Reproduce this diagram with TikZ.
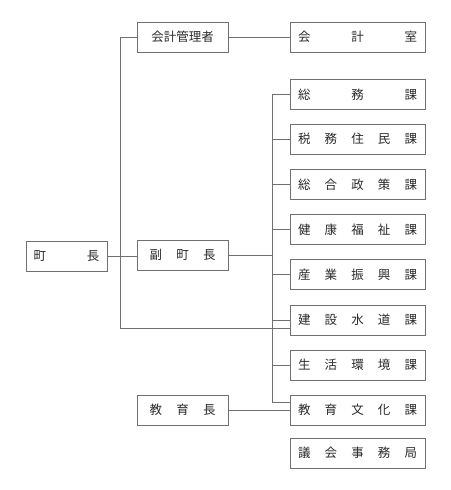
\documentclass[tikz,border=0pt]{standalone}
\usepackage{fontspec}
\newfontfamily\cjk{Noto Sans CJK JP}
\definecolor{ln}{HTML}{707070}
\definecolor{tx}{HTML}{2A2A2A}
\newcommand{\dist}[2]{\makebox[#1][s]{#2}}
\begin{document}
\begin{tikzpicture}[x=1pt,y=-1pt,
  box/.style={draw=ln,line width=0.7pt,minimum height=30pt,inner sep=0pt,text=tx,font=\cjk\fontsize{12.5}{14}\selectfont},
  rbox/.style={box,minimum width=135pt},
  mbox/.style={box,minimum width=91pt},
  conn/.style={draw=ln,line width=0.7pt}]
\useasboundingbox (0,0) rectangle (450,490);
% left / middle boxes
\node[box,minimum width=81pt] (chou) at (66.5,256) {\dist{66pt}{町\hfill 長}};
\node[mbox] (kanri) at (182.5,37) {会計管理者};
\node[mbox] (fuku) at (182.5,255) {\dist{66pt}{副\hfill 町\hfill 長}};
\node[mbox] (kyouikuchou) at (182.5,410) {\dist{66pt}{教\hfill 育\hfill 長}};
% right boxes
\node[rbox] (kaikei) at (357.5,37) {\dist{119pt}{会\hfill 計\hfill 室}};
\node[rbox] (soumu) at (357.5,94.5) {\dist{119pt}{総\hfill 務\hfill 課}};
\node[rbox] (zeimu) at (357.5,139) {\dist{119pt}{税\hfill 務\hfill 住\hfill 民\hfill 課}};
\node[rbox] (sougou) at (357.5,184.5) {\dist{119pt}{総\hfill 合\hfill 政\hfill 策\hfill 課}};
\node[rbox] (kenkou) at (357.5,229.5) {\dist{119pt}{健\hfill 康\hfill 福\hfill 祉\hfill 課}};
\node[rbox] (sangyou) at (357.5,274.5) {\dist{119pt}{産\hfill 業\hfill 振\hfill 興\hfill 課}};
\node[rbox] (kensetsu) at (357.5,320) {\dist{119pt}{建\hfill 設\hfill 水\hfill 道\hfill 課}};
\node[rbox] (seikatsu) at (357.5,365) {\dist{119pt}{生\hfill 活\hfill 環\hfill 境\hfill 課}};
\node[rbox] (kyouiku) at (357.5,410) {\dist{119pt}{教\hfill 育\hfill 文\hfill 化\hfill 課}};
\node[rbox] (gikai) at (357.5,453) {\dist{119pt}{議\hfill 会\hfill 事\hfill 務\hfill 局}};
% trunk coordinates
\coordinate (tl) at (120,37);
\coordinate (bl) at (120,328);
\coordinate (rt) at (272,94.5);
\coordinate (rb) at (272,402);
% connectors
\draw[conn] (kanri.east) -- (kaikei.west);
\draw[conn] (chou.east) -- (chou.east -| fuku.west);
\draw[conn] (kanri.west) -- (tl) -- (bl) -- (bl -| kensetsu.west);
\draw[conn] (rt) -- (rb) -- (rb -| kyouiku.west);
\draw[conn] (fuku.east) -- (fuku.east -| rt);
\foreach \n in {soumu,zeimu,sougou,kenkou,sangyou,kensetsu,seikatsu}
  \draw[conn] (\n.west) -- (\n.west -| rt);
\draw[conn] (kyouikuchou.east) -- (kyouiku.west);
\end{tikzpicture}
\end{document}
